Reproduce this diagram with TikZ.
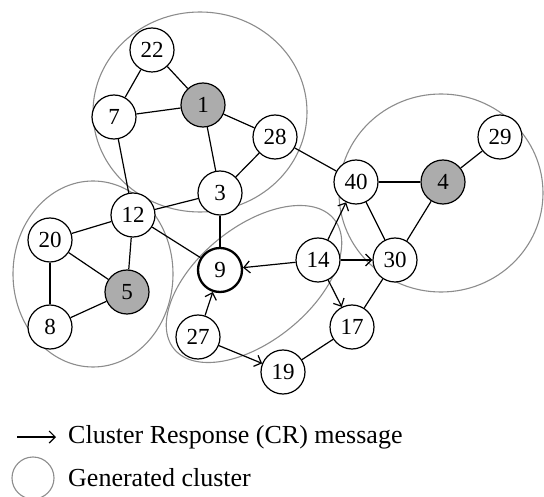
\documentclass[tikz,border=0pt]{standalone}
\usepackage{fontspec}
\setmainfont{Liberation Serif}
\usetikzlibrary{arrows.meta}
\definecolor{nodegray}{RGB}{172,172,172}
\definecolor{clustergray}{RGB}{140,140,140}
\begin{document}
\begin{tikzpicture}[x=1pt,y=-1pt,
  vtx/.style={circle,draw,line width=1.2pt,minimum size=44pt,inner sep=0pt,fill=white,font=\fontsize{23}{23}\selectfont},
  head/.style={vtx,fill=nodegray},
  target/.style={vtx,line width=2.3pt},
  cluster/.style={draw=clustergray,line width=1.1pt},
  edge/.style={line width=1.2pt},
  msg/.style={line width=1.2pt,-{Straight Barb[length=6pt,width=12pt,line width=1.2pt]}},
  legendtext/.style={anchor=west,font=\fontsize{26}{26}\selectfont,inner sep=0pt}]
\useasboundingbox (0,0) rectangle (544,497);
% clusters
\draw[cluster] (200,112) ellipse [x radius=107,y radius=100];
\draw[cluster] (441,193) ellipse [x radius=102,y radius=99];
\draw[cluster] (93,274) ellipse [x radius=80,y radius=93];
\begin{scope}[shift={(254,284)},rotate=39]
\draw[cluster] (0,0) ellipse [x radius=103,y radius=57];
\end{scope}
% nodes
\node[vtx]  (n22) at (152,50)  {22};
\node[head] (n1)  at (203,105) {1};
\node[vtx]  (n7)  at (114,117) {7};
\node[vtx]  (n28) at (275,137) {28};
\node[vtx]  (n3)  at (220,193) {3};
\node[vtx]  (n12) at (133,215) {12};
\node[vtx]  (n20) at (50,240)  {20};
\node[head] (n5)  at (127,292) {5};
\node[vtx]  (n8)  at (50,327)  {8};
\node[target] (n9) at (220,270) {9};
\node[vtx]  (n27) at (198,337) {27};
\node[vtx]  (n19) at (283,372) {19};
\node[vtx]  (n17) at (352,327) {17};
\node[vtx]  (n14) at (318,260) {14};
\node[vtx]  (n30) at (395,260) {30};
\node[vtx]  (n40) at (356,182) {40};
\node[head] (n4)  at (443,182) {4};
\node[vtx]  (n29) at (500,137) {29};
% edges
\draw[edge] (n22) -- (n7);
\draw[edge] (n22) -- (n1);
\draw[edge] (n7) -- (n1);
\draw[edge] (n1) -- (n28);
\draw[edge] (n1) -- (n3);
\draw[edge] (n7) -- (n12);
\draw[edge] (n28) -- (n3);
\draw[edge] (n3) -- (n12);
\draw[edge] (n3) -- (n9);
\draw[edge] (n12) -- (n20);
\draw[edge] (n12) -- (n5);
\draw[edge] (n12) -- (n9);
\draw[edge] (n20) -- (n5);
\draw[edge] (n20) -- (n8);
\draw[edge] (n8) -- (n5);
\draw[edge] (n28) -- (n40);
\draw[edge] (n40) -- (n4);
\draw[edge] (n4) -- (n29);
\draw[edge] (n4) -- (n30);
\draw[edge] (n40) -- (n30);
\draw[edge] (n17) -- (n30);
\draw[edge] (n19) -- (n17);
\draw[msg] (n14) -- (n40);
\draw[msg] (n14) -- (n9);
\draw[msg] (n14) -- (n30);
\draw[msg] (n14) -- (n17);
\draw[msg] (n27) -- (n9);
\draw[msg] (n27) -- (n19);
% legend
\coordinate (la) at (17,437);
\coordinate (lb) at (56,437);
\draw[msg] (la) -- (lb);
\node[legendtext] (lt1) at (68,437) {Cluster Response (CR) message};
\node[cluster,circle,minimum size=42pt,inner sep=0pt] (lc) at (33,478) {};
\node[legendtext] (lt2) at (68,478) {Generated cluster};
\end{tikzpicture}
\end{document}
